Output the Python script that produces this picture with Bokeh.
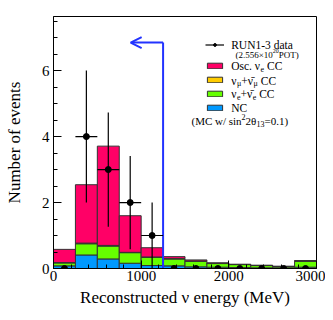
import numpy as np
from bokeh.plotting import figure
from bokeh.models import Range1d, Label, Legend, LegendItem, Arrow, OpenHead, FixedTicker
from bokeh.embed import file_html
from bokeh.resources import INLINE

# ---- data ----
bin_edges = [0, 250, 500, 750, 1000, 1250, 1500, 1750, 2000, 2250, 2500, 2750, 3000]
nc_events = [0.08, 0.41, 0.29, 0.16, 0.09, 0.08, 0.05, 0.04, 0.03, 0.02, 0.02, 0.04]
nue_beam_events = [0.09, 0.34, 0.39, 0.32, 0.25, 0.21, 0.17, 0.11, 0.09, 0.07, 0.04, 0.18]
numu_events = [0.01, 0.02, 0.02, 0.01, 0.01, 0.01, 0.01, 0.01, 0.00, 0.00, 0.00, 0.01]
osc_nue_events = [0.40, 1.77, 3.01, 1.11, 0.28, 0.06, 0.03, 0.01, 0.01, 0.01, 0.01, 0.01]
data_counts = [0, 4, 3, 2, 1, 0, 0, 0, 0, 0, 0, 0]

cut_energy = 1250
arrow_level = 6.85
arrow_tip = 880

x_ticks = [0, 1000, 2000, 3000]
y_ticks = [0, 2, 4, 6]

FONT = "Liberation Serif"
C_OSC = "#ff0066"
C_NUMU = "#ffcc00"
C_NUE = "#66ff00"
C_NC = "#0099ff"
C_ARROW = "#2233ff"
EDGE = "#333333"

FL, FT = 53, 16  # frame left / top in page pixels

p = figure(width=325, height=312, frame_width=263, frame_height=252,
           x_range=Range1d(0, 3000), y_range=Range1d(0, 7.64),
           output_backend="svg", toolbar_location=None,
           min_border_left=FL, min_border_right=9, min_border_top=FT, min_border_bottom=44)
p.background_fill_color = "white"
p.border_fill_color = "white"
p.outline_line_color = "black"
p.outline_line_width = 1
p.xgrid.visible = False
p.ygrid.visible = False

left = np.array(bin_edges[:-1], dtype=float)
right = np.array(bin_edges[1:], dtype=float)
b0 = np.zeros(len(left))
b1 = b0 + np.array(nc_events)
b2 = b1 + np.array(nue_beam_events)
b3 = b2 + np.array(numu_events)
b4 = b3 + np.array(osc_nue_events)

r_nc = p.quad(left=left, right=right, bottom=b0, top=b1, fill_color=C_NC, line_color=EDGE, line_width=1)
r_nue = p.quad(left=left, right=right, bottom=b1, top=b2, fill_color=C_NUE, line_color=EDGE, line_width=1)
r_numu = p.quad(left=left, right=right, bottom=b2, top=b3, fill_color=C_NUMU, line_color=EDGE, line_width=1)
r_osc = p.quad(left=left, right=right, bottom=b3, top=b4, fill_color=C_OSC, line_color=EDGE, line_width=1)

# cut line + arrow
p.segment(x0=[cut_energy], y0=[0], x1=[cut_energy], y1=[arrow_level], line_color=C_ARROW, line_width=2)
p.add_layout(Arrow(end=OpenHead(size=11, line_color=C_ARROW, line_width=2),
                   x_start=cut_energy, y_start=arrow_level, x_end=arrow_tip, y_end=arrow_level,
                   line_color=C_ARROW, line_width=2))

# data with error bars
centers = (left + right) / 2
half = (right - left) / 2
counts = np.array(data_counts, dtype=float)
nz = counts > 0
err = np.sqrt(counts)
r_h = p.segment(x0=(centers - half)[nz], y0=counts[nz], x1=(centers + half)[nz], y1=counts[nz],
                line_color="black", line_width=1.2)
p.segment(x0=centers[nz], y0=(counts - err)[nz], x1=centers[nz], y1=(counts + err)[nz],
          line_color="black", line_width=1.2)
r_pts = p.scatter(centers, counts, size=6, color="black")

# axes
for ax in (p.xaxis, p.yaxis):
    ax.axis_line_color = "black"
    ax.major_tick_in = 8
    ax.major_tick_out = 0
    ax.minor_tick_in = 4
    ax.minor_tick_out = 0
    ax.major_tick_line_color = "black"
    ax.minor_tick_line_color = "black"
    ax.major_label_text_font = FONT
    ax.major_label_text_font_size = "15px"
    ax.major_label_text_color = "black"
    ax.axis_label_text_font = FONT
    ax.axis_label_text_font_size = "17px"
    ax.axis_label_text_font_style = "normal"
    ax.axis_label_text_color = "black"
p.xaxis.ticker = FixedTicker(ticks=x_ticks, minor_ticks=list(range(0, 3001, 200)))
p.yaxis.ticker = FixedTicker(ticks=y_ticks, minor_ticks=[i * 0.5 for i in range(16)])
p.xaxis.major_label_standoff = 2
p.yaxis.major_label_standoff = 4
p.xaxis.axis_label = "Reconstructed ν energy (MeV)"
p.yaxis.axis_label = "Number of events"
p.xaxis.axis_label_standoff = 4
p.yaxis.axis_label_standoff = 15

# legend swatches
def mk_legend(items, loc):
    lg = Legend(items=items, location=loc, orientation="vertical",
                glyph_width=19, glyph_height=7, label_height=7, spacing=7,
                label_text_font_size="1px", label_standoff=0, label_width=1,
                padding=0, margin=0, border_line_alpha=0, background_fill_alpha=0)
    p.add_layout(lg)

mk_legend([LegendItem(label=" ", renderers=[r_h, r_pts])], (151.5, 220.5))
mk_legend([LegendItem(label=" ", renderers=[r_osc]),
           LegendItem(label=" ", renderers=[r_numu]),
           LegendItem(label=" ", renderers=[r_nue]),
           LegendItem(label=" ", renderers=[r_nc])], (151.5, 157.5))

# legend texts (Times-compatible advance widths, per em)
W = {" ": .25, "(": .333, ")": .333, ".": .25, "/": .278, "+": .564, "=": .564, "-": .333,
     "×": .564, "C": .667, "M": .889, "N": .722, "O": .722, "P": .556, "R": .667, "T": .611,
     "U": .722, "a": .444, "c": .444, "d": .5, "e": .444, "i": .278, "n": .5, "s": .389,
     "t": .278, "w": .722, "θ": .5, "ν": .5, "μ": .55, "\u0304": 0.0}

def width(s, size):
    return sum(W.get(ch, .5) for ch in s) * size

def txt(s, px, py, size):
    p.add_layout(Label(x=3000, y=7.64, x_offset=px - 316, y_offset=16 - py, text=s,
                       text_font=FONT, text_font_size=f"{size}px", text_color="black",
                       text_align="left", text_baseline="middle"))

def row(px, py, pieces, size=11.5, small=8):
    x = px
    for s, kind in pieces:
        fs = size if kind == "n" else small
        dy = 0 if kind == "n" else (3 if kind == "sub" else -4)
        lead = len(s) - len(s.lstrip(" "))
        x += width(" " * lead, fs)
        s = s.lstrip(" ")
        txt(s, x, py + dy, fs)
        x += width(s, fs)

row(230.7, 44, [("RUN1-3 data", "n")])
row(235, 54.5, [("(2.556×10", "n"), ("20", "sup"), ("POT)", "n")], size=9, small=6)
row(230.7, 65, [("Osc. ν", "n"), ("e", "sub"), (" CC", "n")])
row(230.7, 80, [("ν", "n"), ("μ", "sub"), ("+ν̄", "n"), ("μ", "sub"), (" CC", "n")])
row(230.7, 93, [("ν", "n"), ("e", "sub"), ("+ν̄", "n"), ("e", "sub"), (" CC", "n")])
row(230.7, 107, [("NC", "n")])
row(191, 120, [("(MC w/ sin", "n"), ("2", "sup"), ("2θ", "n"), ("13", "sub"), ("=0.1)", "n")], size=11)

open("out.html", "w").write(file_html(p, INLINE))
